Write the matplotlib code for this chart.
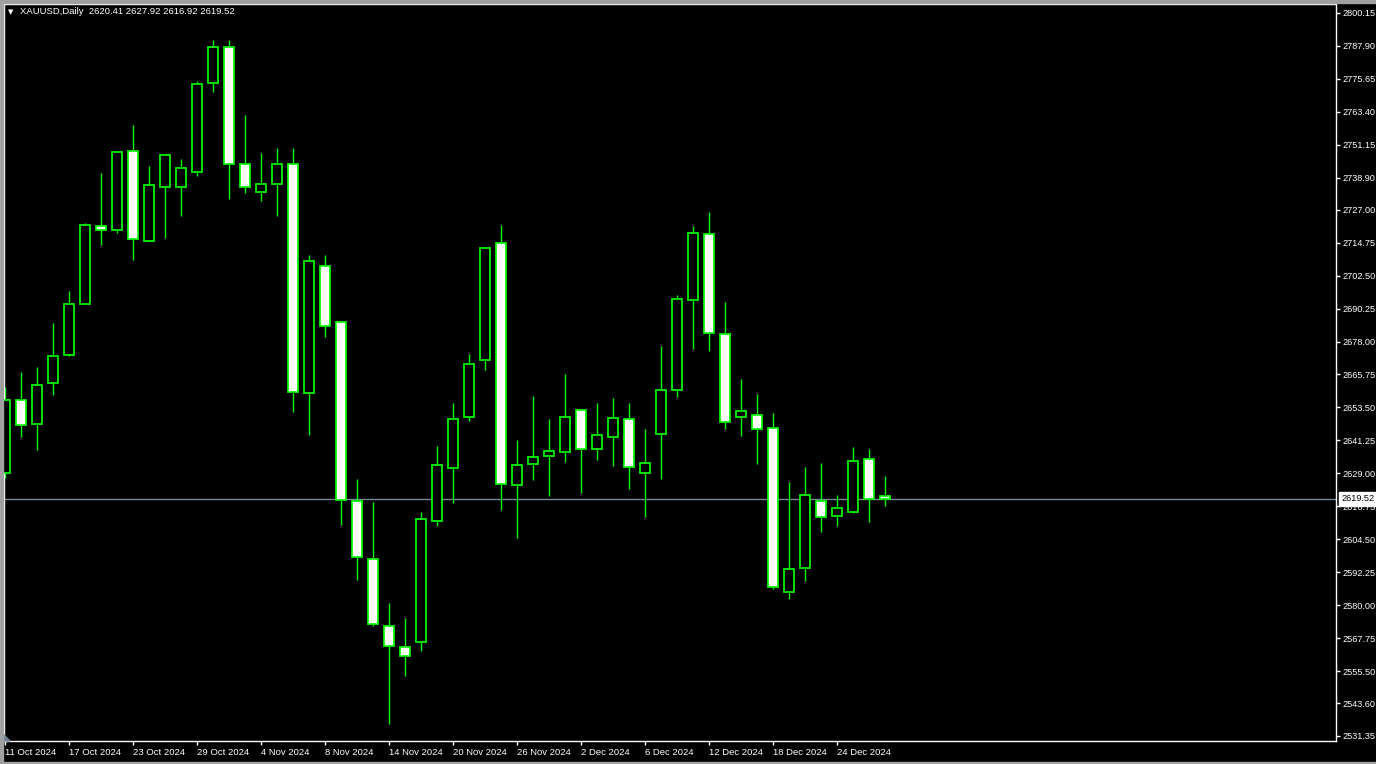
import matplotlib
matplotlib.use('Agg')
import matplotlib.pyplot as plt
from matplotlib.patches import Rectangle, Polygon
import numpy as np

plt.rcParams['font.family'] = ['Liberation Sans', 'DejaVu Sans']

# daily XAUUSD bars, 11 Oct 2024 .. end of Dec 2024
opens = [2629.3, 2656.4, 2647.5, 2662.4, 2673.1, 2692.1, 2721.1, 2719.3, 2748.7, 2715.2,
         2735.6, 2735.6, 2740.9, 2774.2, 2787.5, 2743.9, 2733.6, 2736.7, 2743.9, 2658.7,
         2705.9, 2685.1, 2618.7, 2597.3, 2572.1, 2564.6, 2566.4, 2611.1, 2630.8, 2649.8,
         2671.0, 2714.5, 2624.5, 2632.5, 2635.3, 2636.8, 2652.4, 2638.1, 2642.6, 2649.1,
         2629.3, 2643.8, 2659.9, 2693.3, 2717.9, 2680.7, 2649.8, 2650.8, 2645.7, 2584.8,
         2593.7, 2618.8, 2613.0, 2614.5, 2634.2, 2620.41]
highs = [2661.1, 2666.7, 2668.5, 2684.9, 2696.7, 2722.1, 2740.7, 2748.8, 2758.5, 2743.2,
         2747.5, 2745.9, 2774.9, 2790.2, 2790.2, 2762.3, 2748.0, 2750.0, 2750.0, 2710.2,
         2710.2, 2685.8, 2626.9, 2618.4, 2580.7, 2575.2, 2614.6, 2639.1, 2655.1, 2673.3,
         2712.7, 2721.3, 2641.5, 2657.7, 2649.3, 2665.9, 2653.1, 2655.1, 2657.0, 2655.1,
         2645.4, 2676.3, 2695.2, 2721.0, 2726.2, 2692.7, 2664.1, 2658.5, 2651.4, 2625.8,
         2631.4, 2632.8, 2620.9, 2638.8, 2638.0, 2627.92]
lows = [2627.3, 2642.6, 2637.5, 2658.2, 2672.8, 2692.1, 2713.8, 2718.4, 2708.4, 2715.2,
        2716.5, 2724.5, 2739.7, 2770.8, 2731.1, 2733.1, 2730.1, 2724.5, 2651.9, 2643.1,
        2679.8, 2609.9, 2589.2, 2572.1, 2535.9, 2553.8, 2563.1, 2609.6, 2618.0, 2648.3,
        2667.5, 2615.2, 2604.8, 2626.4, 2620.4, 2633.3, 2621.5, 2633.8, 2631.8, 2623.0,
        2612.9, 2627.0, 2657.5, 2675.3, 2674.6, 2645.6, 2643.0, 2632.6, 2586.1, 2582.4,
        2589.1, 2607.3, 2609.5, 2614.3, 2611.0, 2616.92]
closes = [2656.4, 2647.1, 2662.0, 2672.8, 2692.1, 2721.5, 2719.3, 2748.4, 2716.0, 2736.1,
          2747.5, 2742.7, 2773.6, 2787.5, 2744.0, 2735.4, 2736.4, 2743.9, 2659.2, 2707.8,
          2683.8, 2619.2, 2597.8, 2573.1, 2564.8, 2561.1, 2611.9, 2632.0, 2649.1, 2669.5,
          2712.7, 2625.2, 2632.0, 2635.0, 2637.2, 2650.1, 2638.1, 2643.1, 2649.4, 2631.5,
          2633.0, 2659.9, 2693.7, 2718.2, 2681.1, 2648.0, 2652.1, 2645.4, 2586.6, 2593.3,
          2620.8, 2612.7, 2616.2, 2633.5, 2619.3, 2619.52]

date_labels = ['11 Oct 2024', '17 Oct 2024', '23 Oct 2024', '29 Oct 2024', '4 Nov 2024',
               '8 Nov 2024', '14 Nov 2024', '20 Nov 2024', '26 Nov 2024', '2 Dec 2024',
               '6 Dec 2024', '12 Dec 2024', '18 Dec 2024', '24 Dec 2024']
price_ticks = [2800.15, 2787.90, 2775.65, 2763.40, 2751.15, 2738.90, 2727.00, 2714.75,
               2702.50, 2690.25, 2678.00, 2665.75, 2653.50, 2641.25, 2629.00, 2616.75,
               2604.50, 2592.25, 2580.00, 2567.75, 2555.50, 2543.60, 2531.35]

o = np.array(opens)
h = np.array(highs)
l = np.array(lows)
c = np.array(closes)
idx = np.arange(len(o))
up = c >= o
green = '#00ff00'

fig = plt.figure(figsize=(13.76, 7.64), dpi=100, facecolor='black')
ax = fig.add_axes([4/1376, 23/764, 1332/1376, 737/764], facecolor='black')

ax.axhline(c[-1], color='#778899', lw=1, zorder=1)
ax.vlines(idx, l, h, color=green, lw=1, zorder=2)
ax.bar(idx, np.abs(c - o), bottom=np.minimum(o, c), width=0.62,
       color=np.where(up, 'black', 'white'), edgecolor=green, linewidth=1.25, zorder=3)

ax.set_xlim(-0.0625, 83.19)
ax.set_ylim(2529.48, 2803.49)

for s in ax.spines.values():
    s.set_color('white')
    s.set_linewidth(1)

ax.yaxis.tick_right()
ax.set_yticks(price_ticks)
ax.set_yticklabels([f'{v:.2f}' for v in price_ticks])
ax.set_xticks(range(0, 4 * len(date_labels), 4))
ax.set_xticklabels(date_labels, ha='left')
ax.tick_params(axis='y', colors='white', length=3, width=1, pad=1.5, labelsize=6.6)
ax.tick_params(axis='x', colors='white', length=3, width=1, pad=2, labelsize=6.8)

# current price box on the price scale
ax.text(1 + 5/1332, c[-1], f'{c[-1]:.2f}', transform=ax.get_yaxis_transform(),
        color='black', fontsize=6.6, va='center', ha='left', zorder=10, clip_on=False,
        bbox=dict(boxstyle='square,pad=0.25', fc='white', ec='white'))

# header
fig.text(8/1376, 1 - 12.5/764, '\u25bc', color='white', fontsize=5,
         family='DejaVu Sans', va='center')
fig.text(20/1376, 1 - 12/764,
         f'XAUUSD,Daily  {o[-1]:.2f} {h[-1]:.2f} {l[-1]:.2f} {c[-1]:.2f}',
         color='white', fontsize=6.8, va='center')

# window frame bits
fig.patches.append(Polygon([(4/1376, 23/764), (4/1376, 29/764), (10/1376, 23/764)],
                           closed=True, transform=fig.transFigure, color='#708090'))
fig.patches.append(Rectangle((0, 1 - 3/764), 1, 3/764, transform=fig.transFigure, color='#a0a0a0'))
fig.patches.append(Rectangle((0, 0), 3/1376, 1, transform=fig.transFigure, color='#a0a0a0'))
fig.patches.append(Rectangle((0, 0), 1, 2/764, transform=fig.transFigure, color='#a0a0a0'))

fig.savefig('out.png', dpi=100, facecolor='black')
